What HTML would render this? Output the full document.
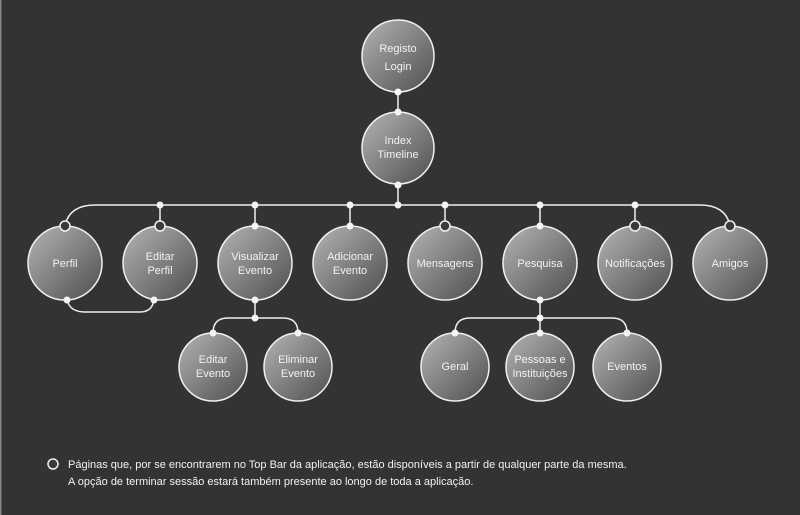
<!DOCTYPE html>
<html><head><meta charset="utf-8"><style>
html,body{margin:0;padding:0;background:#333;}
svg{display:block}
text{font-family:"Liberation Sans",sans-serif;fill:#f2f2f2;text-anchor:middle;}
</style></head><body>
<svg width="800" height="515" viewBox="0 0 800 515" xmlns="http://www.w3.org/2000/svg">
<defs>
<linearGradient id="g" x1="0" y1="0" x2="1" y2="1">
<stop offset="0" stop-color="#b4b4b6"/><stop offset="1" stop-color="#4e4e50"/>
</linearGradient>
</defs>
<rect width="800" height="515" fill="#333"/>
<rect x="0" y="0" width="1.5" height="515" fill="#888"/>
<g stroke="#f0f0f0" stroke-width="1.5" fill="none">
<line x1="398" y1="92" x2="398" y2="112"/>
<line x1="398" y1="185" x2="398" y2="205"/>
<path d="M65 225 Q70 205 95 205 L700 205 Q725 205 730 225"/>
<line x1="160" y1="205" x2="160" y2="225"/>
<line x1="255" y1="205" x2="255" y2="226"/>
<line x1="350" y1="205" x2="350" y2="226"/>
<line x1="445" y1="205" x2="445" y2="225"/>
<line x1="540" y1="205" x2="540" y2="226"/>
<line x1="635" y1="205" x2="635" y2="225"/>
<path d="M67 300 Q70 312 85 312 L140 312 Q152 312 154 300"/>
<line x1="255" y1="300" x2="255" y2="318"/>
<path d="M213 333 Q213 318 228 318 L283 318 Q298 318 298 333"/>
<line x1="540" y1="300" x2="540" y2="333"/>
<path d="M455 333 Q455 318 470 318 L612 318 Q627 318 627 333"/>
</g>
<g stroke="#f0f0f0" stroke-width="1.5" fill="url(#g)">
<circle cx="398" cy="56" r="36"/>
<circle cx="398" cy="148" r="36"/>
<circle cx="65" cy="263" r="37"/>
<circle cx="160" cy="263" r="37"/>
<circle cx="255" cy="263" r="37"/>
<circle cx="350" cy="263" r="37"/>
<circle cx="445" cy="263" r="37"/>
<circle cx="540" cy="263" r="37"/>
<circle cx="635" cy="263" r="37"/>
<circle cx="730" cy="263" r="37"/>
<circle cx="213" cy="367" r="34"/>
<circle cx="298" cy="367" r="34"/>
<circle cx="455" cy="367" r="34"/>
<circle cx="540" cy="367" r="34"/>
<circle cx="627" cy="367" r="34"/>
</g>
<g fill="#f4f4f4">
<circle cx="398" cy="92" r="3.5"/><circle cx="398" cy="112" r="3.5"/>
<circle cx="398" cy="185" r="3.5"/><circle cx="398" cy="205" r="3.5"/>
<circle cx="160" cy="205" r="3.5"/><circle cx="255" cy="205" r="3.5"/>
<circle cx="350" cy="205" r="3.5"/><circle cx="445" cy="205" r="3.5"/>
<circle cx="540" cy="205" r="3.5"/><circle cx="635" cy="205" r="3.5"/>
<circle cx="255" cy="226" r="3.5"/><circle cx="350" cy="226" r="3.5"/><circle cx="540" cy="226" r="3.5"/>
<circle cx="67" cy="300" r="3.5"/><circle cx="154" cy="300" r="3.5"/>
<circle cx="255" cy="300" r="3.5"/><circle cx="255" cy="318" r="3.5"/>
<circle cx="540" cy="300" r="3.5"/><circle cx="540" cy="318" r="3.5"/>
<circle cx="213" cy="333" r="3.5"/><circle cx="298" cy="333" r="3.5"/>
<circle cx="455" cy="333" r="3.5"/><circle cx="540" cy="333" r="3.5"/><circle cx="627" cy="333" r="3.5"/>
</g>
<g fill="#3a3a3a" stroke="#f0f0f0" stroke-width="1.5">
<circle cx="65" cy="226" r="5"/><circle cx="160" cy="226" r="5"/>
<circle cx="445" cy="226" r="5"/><circle cx="635" cy="226" r="5"/><circle cx="730" cy="226" r="5"/>
<circle cx="53" cy="464" r="5"/>
</g>
<g font-size="11">
<text x="398" y="52">Registo</text><text x="398" y="70">Login</text>
<text x="398" y="144">Index</text><text x="398" y="158">Timeline</text>
<text x="65" y="267">Perfil</text>
<text x="160" y="260">Editar</text><text x="160" y="274">Perfil</text>
<text x="255" y="260">Visualizar</text><text x="255" y="274">Evento</text>
<text x="350" y="260">Adicionar</text><text x="350" y="274">Evento</text>
<text x="445" y="267">Mensagens</text>
<text x="540" y="267">Pesquisa</text>
<text x="635" y="267">Notificações</text>
<text x="730" y="267">Amigos</text>
<text x="213" y="363">Editar</text><text x="213" y="377">Evento</text>
<text x="298" y="363">Eliminar</text><text x="298" y="377">Evento</text>
<text x="455" y="370">Geral</text>
<text x="540" y="363">Pessoas e</text><text x="540" y="377">Instituições</text>
<text x="627" y="370">Eventos</text>
</g>
<g font-size="11" style="text-anchor:start">
<text x="68" y="468" style="text-anchor:start">Páginas que, por se encontrarem no Top Bar da aplicação, estão disponíveis a partir de qualquer parte da mesma.</text>
<text x="68" y="485" style="text-anchor:start">A opção de terminar sessão estará também presente ao longo de toda a aplicação.</text>
</g>
</svg>
</body></html>
